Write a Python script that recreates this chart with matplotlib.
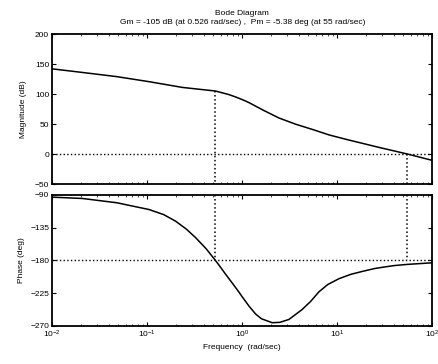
import numpy as np
import matplotlib.pyplot as plt
from matplotlib.ticker import LogLocator, NullFormatter

plt.rcParams['font.family'] = ['Liberation Sans', 'DejaVu Sans']

# ----------------- valores -----------------
freq_mag = [0.01, 0.0208, 0.048, 0.105, 0.236, 0.526, 0.73, 0.86, 1.05, 1.19,
            1.63, 2.45, 3.7, 5.5, 8.3, 12.5, 18.5, 27.7, 55.0, 100.0]
mag_db = [142, 136, 129, 120.6, 111, 105, 99, 95, 89.5, 85.5,
          74, 60, 49.5, 41, 31.7, 24.4, 17.8, 11, 0, -10.5]

freq_ph = [0.01, 0.0208, 0.048, 0.105, 0.15, 0.2, 0.26, 0.326, 0.42, 0.526, 0.6,
           0.673, 0.8, 0.93, 1.0, 1.19, 1.39, 1.6, 2.08, 2.5, 3.12, 4.3, 5.3,
           6.46, 8.0, 10.5, 14.0, 18.5, 25.0, 32.5, 40.0, 55.0, 100.0]
phase_deg = [-93, -94.8, -100.7, -110, -117, -126, -137, -148.8, -164, -180, -190,
             -199, -212, -223.5, -229.5, -243, -253.5, -260, -265.5, -265, -261, -247.3, -236,
             -223, -213, -205, -199, -195, -191, -188.7, -187, -185.38, -183.2]

w_gm = 0.526      # rad/sec
gm_mag = 105      # dB en w_gm
w_pm = 55.0       # rad/sec

mag_ticks = [-50, 0, 50, 100, 150, 200]
ph_ticks = [-270, -225, -180, -135, -90]
title_1 = "Bode Diagram"
title_2 = "Gm = -105 dB (at 0.526 rad/sec) ,  Pm = -5.38 deg (at 55 rad/sec)"

FS = 6

fig = plt.figure(figsize=(4.38, 3.64), dpi=100)
ax1 = fig.add_axes([0.1187, 0.4945, 0.8676, 0.412])
ax2 = fig.add_axes([0.1187, 0.1044, 0.8676, 0.360])

for ax in (ax1, ax2):
    ax.set_xscale("log")
    ax.set_xlim(0.01, 100)
    ax.xaxis.set_major_locator(LogLocator(base=10))
    ax.xaxis.set_minor_locator(LogLocator(base=10, subs=np.arange(2, 10)))
    ax.xaxis.set_minor_formatter(NullFormatter())
    ax.tick_params(which="both", direction="in", top=True, right=True, labelsize=FS, pad=2)
    ax.tick_params(which="major", length=3, width=0.8)
    ax.tick_params(which="minor", length=1.5, width=0.5)
    for s in ax.spines.values():
        s.set_linewidth(1.3)

# magnitud
ax1.plot(freq_mag, mag_db, color="black", lw=1.1)
ax1.axhline(0, color="black", ls=":", lw=1.0)
ax1.plot([w_gm, w_gm], [gm_mag, -50], color="black", ls=":", lw=1.1)
ax1.plot([w_pm, w_pm], [0, -50], color="black", ls=":", lw=1.1)
ax1.set_ylim(-50, 200)
ax1.set_yticks(mag_ticks)
ax1.set_xticklabels([])
ax1.set_ylabel("Magnitude (dB)", fontsize=FS, labelpad=6)

# fase
ax2.plot(freq_ph, phase_deg, color="black", lw=1.1)
ax2.axhline(-180, color="black", ls=":", lw=1.0)
ax2.plot([w_gm, w_gm], [-90, -180], color="black", ls=":", lw=1.1)
ax2.plot([w_pm, w_pm], [-90, -180], color="black", ls=":", lw=1.1)
ax2.set_ylim(-270, -90)
ax2.set_yticks(ph_ticks)
ax2.set_ylabel("Phase (deg)", fontsize=FS, labelpad=4)
ax2.set_xlabel("Frequency  (rad/sec)", fontsize=FS, labelpad=3)

fig.text(0.553, 0.963, title_1, ha="center", va="center", fontsize=FS)
fig.text(0.553, 0.937, title_2, ha="center", va="center", fontsize=FS)

fig.savefig("out.png", dpi=100)
